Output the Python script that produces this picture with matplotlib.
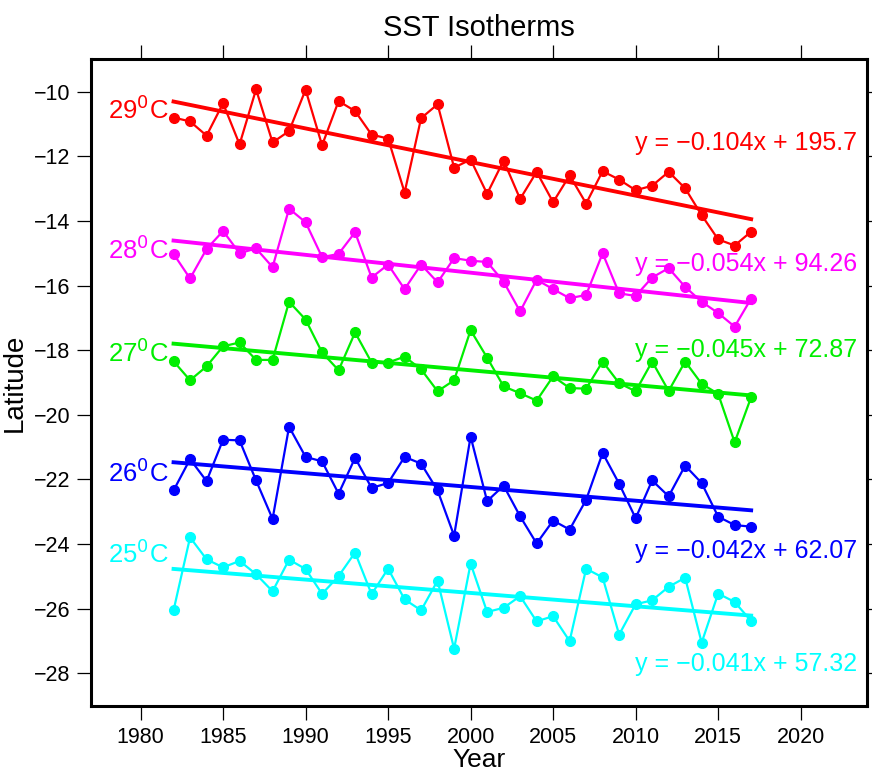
import numpy as np
import matplotlib
matplotlib.use("Agg")
import matplotlib.pyplot as plt

years = list(range(1982, 2018))

sst29 = [-10.80, -10.92, -11.36, -10.36, -11.63, -9.93, -11.57, -11.22, -9.94, -11.66,
         -10.29, -10.60, -11.33, -11.45, -13.12, -10.82, -10.39, -12.35, -12.10, -13.16,
         -12.13, -13.32, -12.48, -13.42, -12.59, -13.46, -12.46, -12.72, -13.05, -12.91,
         -12.48, -12.99, -13.82, -14.57, -14.76, -14.33]
sst28 = [-15.02, -15.78, -14.87, -14.31, -15.00, -14.85, -15.43, -13.62, -14.04, -15.12,
         -15.02, -14.35, -15.75, -15.35, -16.11, -15.35, -15.90, -15.15, -15.23, -15.27,
         -15.88, -16.80, -15.82, -16.11, -16.39, -16.29, -15.00, -16.24, -16.32, -15.75,
         -15.46, -16.04, -16.50, -16.85, -17.27, -16.40]
sst27 = [-18.34, -18.93, -18.50, -17.88, -17.76, -18.30, -18.30, -16.50, -17.05, -18.07,
         -18.62, -17.45, -18.38, -18.38, -18.20, -18.59, -19.27, -18.93, -17.38, -18.23,
         -19.12, -19.33, -19.56, -18.81, -19.17, -19.19, -18.35, -19.02, -19.27, -18.35,
         -19.26, -18.35, -19.04, -19.35, -20.85, -19.45]
sst26 = [-22.34, -21.37, -22.05, -20.77, -20.79, -22.03, -23.22, -20.37, -21.30, -21.44,
         -22.44, -21.33, -22.26, -22.11, -21.30, -21.51, -22.34, -23.74, -20.67, -22.67,
         -22.19, -23.14, -23.98, -23.27, -23.55, -22.63, -21.18, -22.13, -23.20, -22.03,
         -22.52, -21.57, -22.11, -23.15, -23.41, -23.46]
sst25 = [-26.05, -23.79, -24.47, -24.72, -24.52, -24.93, -25.46, -24.48, -24.77, -25.54,
         -24.99, -24.26, -25.55, -24.76, -25.71, -26.05, -25.13, -27.24, -24.60, -26.10,
         -25.97, -25.61, -26.39, -26.23, -27.00, -24.76, -25.03, -26.80, -25.86, -25.74,
         -25.32, -25.04, -27.05, -25.53, -25.79, -26.38]

series = [sst29, sst28, sst27, sst26, sst25]
names = ["29$^0$C", "28$^0$C", "27$^0$C", "26$^0$C", "25$^0$C"]
equations = ["y = \u22120.104x + 195.7", "y = \u22120.054x + 94.26",
             "y = \u22120.045x + 72.87", "y = \u22120.042x + 62.07",
             "y = \u22120.041x + 57.32"]
colors = ["#ff0000", "#ff00ff", "#00ee00", "#0000ff", "#00ffff"]
name_y = [-10.56, -14.88, -18.07, -21.80, -24.30]
eq_y = [-11.58, -15.34, -18.00, -24.22, -27.70]

plt.rcParams['font.family'] = ['Liberation Sans', 'DejaVu Sans']

fig = plt.figure(figsize=(8.72, 7.75), dpi=100)
ax = fig.add_axes([0.1044, 0.0894, 0.8895, 0.834])

x = np.array(years)
for vals, nm, eq, c, ny, ey in zip(series, names, equations, colors, name_y, eq_y):
    v = np.array(vals)
    ax.plot(x, v, '-o', color=c, lw=1.6, ms=7, zorder=3)
    p = np.polyfit(x, v, 1)
    ax.plot(x[[0, -1]], np.polyval(p, x[[0, -1]]), '-', color=c, lw=2.8, zorder=4)
    ax.text(1978.0, ny, nm, color=c, fontsize=18.5, ha='left', va='center')
    ax.text(2023.4, ey, eq, color=c, fontsize=18, ha='right', va='center')

ax.set_xlim(1977, 2024)
ax.set_ylim(-29, -9)
ax.set_xticks(range(1980, 2021, 5))
ax.set_yticks(range(-28, -9, 2))
ax.set_yticklabels([f"\u2212{abs(t)}" for t in range(-28, -9, 2)])
ax.tick_params(axis='both', direction='out', length=10, width=0.9, labelsize=15.5, pad=5,
               top=True, right=True)
for s in ax.spines.values():
    s.set_linewidth(2.2)
ax.set_xlabel("Year", fontsize=19, labelpad=0)
ax.set_ylabel("Latitude", fontsize=20, labelpad=4)
ax.set_title("SST Isotherms", fontsize=21, pad=17)

fig.savefig("out.png", dpi=100)
